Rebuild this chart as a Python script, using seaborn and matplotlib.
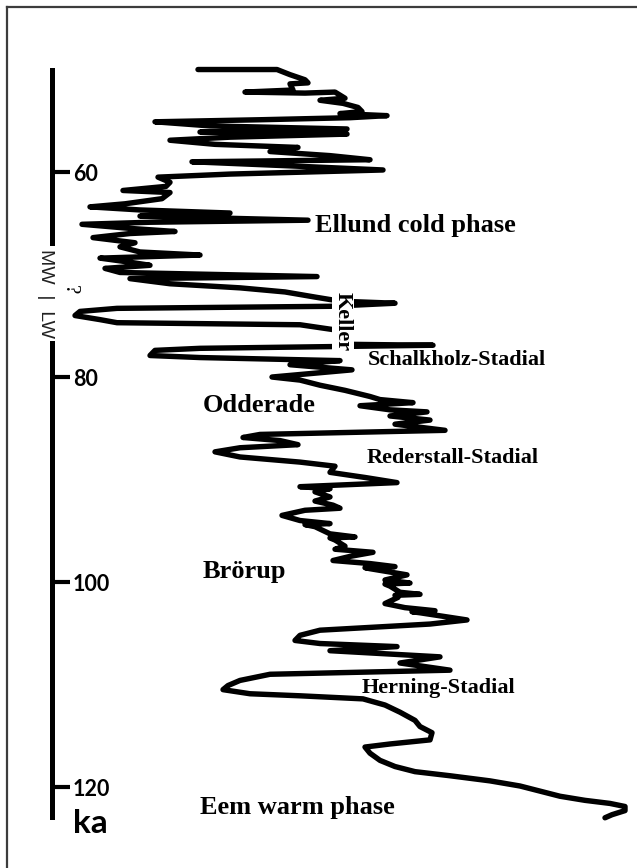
import matplotlib
matplotlib.use("Agg")
import matplotlib.pyplot as plt
import pandas as pd
import seaborn as sns

# ---- data: age (ka) and proxy index ----
age_ka = [50.0, 50.0, 50.5, 51.0, 51.3, 51.4, 52.0, 52.2, 52.3, 52.2, 52.8, 53.0, 53.3, 53.7, 54.1, 54.3, 54.5,
          54.7, 54.9, 55.1, 55.5, 55.8, 56.1, 56.3, 56.6, 56.9, 57.3, 57.6, 58.0, 58.4, 58.8, 59.0,
          59.4, 59.8, 60.2, 60.5, 61.0, 61.4, 61.8, 62.0, 62.6, 63.1, 63.4, 63.7, 64.0, 64.3, 64.7,
          64.9, 65.1, 65.5, 65.8, 66.0, 66.4, 66.9, 67.3, 67.8, 68.1, 68.4, 68.8, 69.1, 69.4, 69.8,
          70.2, 70.4, 70.9, 71.3, 71.7, 72.2, 72.6, 72.8, 73.1, 73.3, 73.6, 74.0, 74.4, 74.7, 74.9,
          75.4, 76.0, 76.8, 76.9, 77.2, 77.4, 77.9, 78.1, 78.4, 78.8, 79.3, 80.0, 80.3, 80.8, 81.3,
          81.9, 82.2, 82.5, 82.8, 83.2, 83.4, 83.8, 84.2, 84.6, 85.2, 85.6, 85.9, 86.2, 86.6, 86.9,
          87.3, 87.8, 88.3, 88.7, 89.3, 89.8, 90.3, 90.7, 90.9, 91.2, 91.7, 92.1, 92.5, 92.8, 93.0,
          93.5, 94.0, 94.3, 94.4, 94.6, 95.3, 95.6, 95.7, 95.9, 96.5, 96.8, 97.1, 97.5, 97.9, 98.2,
          98.5, 98.6, 98.7, 99.3, 99.8, 100.1, 100.2, 100.4, 101.0, 101.2, 101.3, 101.5, 102.1,
          102.5, 102.8, 102.9, 103.0, 103.7, 104.1, 104.7, 105.2, 105.7, 106.0, 106.3, 106.7, 107.3,
          107.9, 108.6, 109.0, 109.6, 110.1, 110.5, 110.9, 111.1, 111.4, 112.0, 112.7, 113.5, 114.1,
          114.7, 115.4, 115.8, 116.1, 116.7, 117.4, 118.0, 118.5, 118.9, 119.4, 119.9, 120.4, 120.9,
          121.3, 121.6, 121.9, 122.3, 122.7, 123.0]
proxy = [198, 277, 290, 305, 308, 290, 293, 245, 305, 335, 345, 320, 343, 358, 362, 340, 387,
         350, 260, 155, 210, 347, 200, 347, 230, 170, 215, 298, 270, 330, 370, 192,
         290, 383, 230, 158, 170, 166, 123, 170, 162, 125, 90, 140, 230, 140, 308,
         150, 82, 130, 175, 130, 93, 135, 120, 140, 200, 100, 130, 150, 105, 120,
         317, 130, 170, 240, 285, 315, 340, 395, 330, 117, 80, 75, 100, 117, 300,
         335, 340, 340, 433, 200, 155, 150, 200, 340, 290, 352, 272, 300, 320, 345,
         370, 380, 413, 360, 390, 427, 390, 430, 395, 445, 260, 243, 280, 298, 240,
         215, 240, 300, 335, 330, 365, 397, 300, 330, 315, 330, 315, 333, 340, 305,
         282, 300, 330, 305, 315, 330, 355, 330, 335, 345, 335, 373, 350, 333, 370,
         395, 365, 370, 407, 385, 410, 385, 390, 400, 420, 395, 398, 385,
         405, 435, 412, 420, 467, 430, 320, 300, 295, 320, 397, 330, 440,
         400, 450, 270, 240, 228, 223, 250, 300, 363, 385, 400, 415, 420,
         432, 430, 390, 365, 370, 380, 395, 415, 450, 490, 520, 540, 560,
         585, 610, 625, 625, 612, 605]

tick_ages = [60, 80, 100, 120]
tick_labels = ["60", "80", "100", "120"]

phase_names = ["Ellund cold phase", "Odderade", "Brörup", "Eem warm phase"]
phase_ages = [65.85, 83.38, 99.61, 122.65]
phase_pos = [315, 203, 203, 200]

stadial_names = ["Schalkholz-Stadial", "Rederstall-Stadial", "Herning-Stadial"]
stadial_ages = [78.83, 88.36, 110.83]
stadial_pos = [368, 367, 362]

# ---- figure ----
sns.set_theme(style="white")
plt.rcParams["font.family"] = ["Liberation Serif", "DejaVu Sans"]

W, H = 637, 868
fig = plt.figure(figsize=(W / 100, H / 100), dpi=100)
fig.patch.set_facecolor("white")
fig.patch.set_edgecolor("white")
fig.patch.set_linewidth(0)
ax = fig.add_axes([7 / W, 0, 1 - 7 / W, 1 - 7 / H])
ax.set_facecolor("white")
ax.patch.set_edgecolor("none")

df = pd.DataFrame({"age": age_ka, "proxy": proxy})
sns.lineplot(data=df, x="proxy", y="age", sort=False, estimator=None,
             color="black", linewidth=3.9, ax=ax)

ax.set_xlim(7, 637)
ax.set_ylim(127.9, 43.9)
ax.set_xlabel("")
ax.set_ylabel("")
ax.set_xticks([])

# frame (top + left) and time axis (right spine moved into the plot)
for s in ["top", "left"]:
    ax.spines[s].set_visible(True)
    ax.spines[s].set_color("#3c3c3c")
    ax.spines[s].set_linewidth(1.6)
ax.spines["bottom"].set_visible(False)
ax.spines["right"].set_visible(True)
ax.spines["right"].set_position(("data", 52))
ax.spines["right"].set_bounds(50.05, 122.9)
ax.spines["right"].set_color("black")
ax.spines["right"].set_linewidth(3.6)

ax.yaxis.set_ticks_position("right")
ax.set_yticks(tick_ages)
ax.set_yticklabels(tick_labels)
ax.tick_params(axis="y", direction="out", length=13, width=3, pad=2,
               labelsize=15.5, color="black", labelcolor="black")
for lbl in ax.get_yticklabels():
    lbl.set_fontfamily(["Lato", "DejaVu Sans"])
    lbl.set_fontweight("bold")

ax.text(73, 124.5, "ka", ha="left", va="baseline", fontsize=24,
        fontweight="bold", family=["Lato", "DejaVu Sans"], color="black")

# MW | LW boundary marker (interrupts the time axis)
ax.text(45, 71.85, "MW  |  LW", rotation=270, ha="center", va="center",
        fontsize=14, family=["Liberation Sans", "DejaVu Sans"], color="#222222",
        bbox=dict(facecolor="white", edgecolor="none", pad=2), zorder=5)
ax.text(69, 71.5, "?", rotation=270, ha="center", va="center",
        fontsize=15, color="black", zorder=5)

for name, a, x in zip(phase_names, phase_ages, phase_pos):
    ax.text(x, a, name, ha="left", va="baseline", fontsize=19,
            fontweight="bold", color="black", zorder=6)

for name, a, x in zip(stadial_names, stadial_ages, stadial_pos):
    ax.text(x, a, name, ha="left", va="baseline", fontsize=16,
            fontweight="bold", color="black", zorder=6)

ax.text(343, 74.6, "Keller", rotation=270, ha="center", va="center",
        fontsize=16, fontweight="bold", color="black", zorder=6,
        bbox=dict(facecolor="white", edgecolor="none", pad=1))

fig.savefig("out.png", dpi=100, facecolor="white")
